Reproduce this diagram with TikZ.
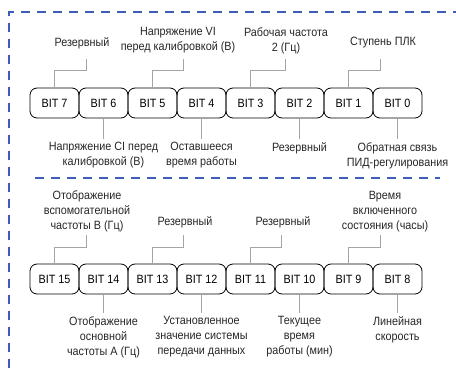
\documentclass[tikz,border=0pt]{standalone}
\usepackage{fontspec}
\setmainfont{Liberation Sans}[FakeStretch=0.9]
\usepackage{tikz}
\usetikzlibrary{positioning}
\definecolor{frameblue}{RGB}{62,92,184}
\definecolor{wiregray}{RGB}{165,165,165}

\begin{document}
\begin{tikzpicture}[x=1pt,y=1pt,
		bitbox/.style={draw, rounded corners=7pt, minimum width=49pt, minimum height=30pt, inner sep=0pt, line width=0.8pt, font=\fontsize{12}{14}\selectfont},
		lbl/.style={align=center, inner sep=3pt, text=black!85, font=\fontsize{12}{15}\selectfont},
		wire/.style={draw=wiregray, line width=0.8pt},
		frame/.style={draw=frameblue, line width=1.4pt, dash pattern=on 9pt off 7pt}]
	\useasboundingbox (0,0) rectangle (456,368);
	
	% Frame
	\draw[frame] (9,0) -- (9,356) -- (456,356);
	\draw[frame] (35,190) -- (440,190);
	
	% Row 1: BIT 7 ... BIT 0
	\node[bitbox] (b7) at (54.5,265) {BIT 7};
	\node[bitbox] (b6) at (103.5,265) {BIT 6};
	\node[bitbox] (b5) at (152.5,265) {BIT 5};
	\node[bitbox] (b4) at (201.5,265) {BIT 4};
	\node[bitbox] (b3) at (250.5,265) {BIT 3};
	\node[bitbox] (b2) at (299.5,265) {BIT 2};
	\node[bitbox] (b1) at (348.5,265) {BIT 1};
	\node[bitbox] (b0) at (397.5,265) {BIT 0};
	
	% Row 1, labels above
	\node[lbl] (l7) at (82,325) {Резервный};
	\node[lbl] (l5) at (178,327.5) {Напряжение VI\\перед калибровкой (В)};
	\node[lbl] (l3) at (286,327.5) {Рабочая частота\\2 (Гц)};
	\node[lbl] (l1) at (383,325) {Ступень ПЛК};
	\coordinate (c7) at (86,309);
	\coordinate (c5) at (183,309);
	\coordinate (c3) at (285,309);
	\coordinate (c1) at (380,309);
	\draw[wire] (b7.north) -- ++(0,17) -| (c7);
	\draw[wire] (b5.north) -- ++(0,17) -| (c5);
	\draw[wire] (b3.north) -- ++(0,17) -| (c3);
	\draw[wire] (b1.north) -- ++(0,17) -| (c1);
	
	% Row 1, labels below
	\node[lbl, below=21pt of b6] (l6) {Напряжение CI перед\\калибровкой (В)};
	\node[lbl, below=21pt of b4] (l4) {Оставшееся\\время работы};
	\node[lbl, below=21pt of b2] (l2) {Резервный};
	\node[lbl, below=21pt of b0] (l0) {Обратная связь\\ПИД-регулирования};
	\draw[wire] (b6) -- (l6);
	\draw[wire] (b4) -- (l4);
	\draw[wire] (b2) -- (l2);
	\draw[wire] (b0) -- (l0);
	
	% Row 2: BIT 15 ... BIT 8
	\node[bitbox] (b15) at (54.5,89) {BIT 15};
	\node[bitbox] (b14) at (103.5,89) {BIT 14};
	\node[bitbox] (b13) at (152.5,89) {BIT 13};
	\node[bitbox] (b12) at (201.5,89) {BIT 12};
	\node[bitbox] (b11) at (250.5,89) {BIT 11};
	\node[bitbox] (b10) at (299.5,89) {BIT 10};
	\node[bitbox] (b9) at (348.5,89) {BIT 9};
	\node[bitbox] (b8) at (397.5,89) {BIT 8};
	
	% Row 2, labels above
	\node[lbl] (l15) at (87,156.5) {Отображение\\вспомогательной\\частоты В (Гц)};
	\node[lbl] (l13) at (185,146) {Резервный};
	\node[lbl] (l11) at (283,146) {Резервный};
	\node[lbl] (l9) at (385,156.5) {Время\\включенного\\состояния (часы)};
	\coordinate (c15) at (86,133);
	\coordinate (c13) at (183,133);
	\coordinate (c11) at (281,133);
	\coordinate (c9) at (380,133);
	\draw[wire] (b15.north) -- ++(0,16) -| (c15);
	\draw[wire] (b13.north) -- ++(0,16) -| (c13);
	\draw[wire] (b11.north) -- ++(0,16) -| (c11);
	\draw[wire] (b9.north) -- ++(0,16) -| (c9);
	
	% Row 2, labels below
	\node[lbl, below=19pt of b14] (l14) {Отображение\\основной\\частоты А (Гц)};
	\node[lbl, below=19pt of b12] (l12) {Установленное\\значение системы\\передачи данных};
	\node[lbl, below=19pt of b10] (l10) {Текущее\\время\\работы (мин)};
	\node[lbl, below=19pt of b8] (l8) {Линейная\\скорость};
	\draw[wire] (b14) -- (l14);
	\draw[wire] (b12) -- (l12);
	\draw[wire] (b10) -- (l10);
	\draw[wire] (b8) -- (l8);
\end{tikzpicture}
\end{document}
